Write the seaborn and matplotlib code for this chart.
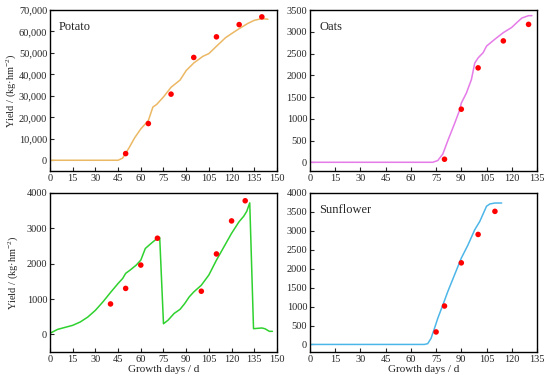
import matplotlib
matplotlib.use("Agg")
import matplotlib.pyplot as plt
import matplotlib.ticker as mticker
import pandas as pd
import seaborn as sns

# Simulated curves
potato_days = [0, 10, 20, 30, 40, 45, 48, 52, 56, 60, 65, 68, 70.5, 75, 80, 86, 90, 95,
               101, 105, 110, 116, 120, 125, 130.6, 135, 140, 144]
potato_sim = [0, 0, 0, 0, 0, 0, 1000, 5500, 10500, 14600, 18500, 24800, 26000, 29500,
              34000, 37400, 41800, 45300, 48400, 49700, 53100, 57100, 59000, 61300,
              63700, 65200, 66000, 65700]
potato_obs_days = [50, 65, 80, 95, 110, 125, 140]
potato_obs = [3100, 17100, 30800, 47900, 57500, 63200, 66800]

oats_days = [0, 20, 40, 60, 73, 76, 79, 82, 86, 89, 90, 93, 96, 98, 100, 103, 105, 110,
             115, 120, 123, 126, 130, 132]
oats_sim = [0, 0, 0, 0, 0, 40, 190, 500, 890, 1200, 1360, 1590, 1900, 2280, 2400, 2520,
            2670, 2830, 2980, 3100, 3210, 3315, 3370, 3370]
oats_obs_days = [80, 90, 100, 115, 130]
oats_obs = [70, 1220, 2170, 2790, 3170]

mixed_days = [0, 5, 15, 20, 25, 30, 35, 40, 45, 48, 50, 53, 57, 60, 63, 67, 71, 72.5,
              75, 78, 82, 86, 89, 92, 95, 100, 105, 110, 115, 120, 125, 128, 130, 132,
              134.5, 140, 142, 145, 147]
mixed_sim = [30, 140, 255, 350, 490, 680, 920, 1185, 1440, 1580, 1725, 1820, 1960, 2100,
             2430, 2580, 2720, 2740, 300, 400, 590, 710, 870, 1060, 1200, 1390, 1680,
             2100, 2480, 2860, 3190, 3340, 3480, 3720, 160, 180, 160, 85, 85]
mixed_obs_days = [40, 50, 60, 71, 100, 110, 120, 129]
mixed_obs = [860, 1300, 1960, 2720, 1220, 2275, 3210, 3780]

sun_days = [0, 20, 40, 60, 68, 70, 72, 74, 76, 79, 82, 86, 90, 94, 98, 101, 105, 107,
            110, 114]
sun_sim = [0, 0, 0, 0, 0, 20, 160, 420, 690, 1040, 1400, 1840, 2280, 2630, 3030, 3250,
           3650, 3710, 3735, 3735]
sun_obs_days = [75, 80, 90, 100, 110]
sun_obs = [330, 1015, 2155, 2905, 3515]

sns.set_style("ticks")
plt.rcParams["font.family"] = ["Liberation Serif", "DejaVu Serif"]
plt.rcParams["mathtext.fontset"] = "custom"
plt.rcParams["mathtext.rm"] = "Liberation Serif"
plt.rcParams["mathtext.it"] = "Liberation Serif:italic"
plt.rcParams["xtick.direction"] = "in"
plt.rcParams["ytick.direction"] = "in"

fig = plt.figure(figsize=(5.5, 3.82), dpi=100)

panels = [
    # (rect, days, sim, obs_days, obs, color, label, xmax, ylim, ystep)
    ([0.0909, 0.5524, 0.4127, 0.4214], potato_days, potato_sim, potato_obs_days,
     potato_obs, "#EBB864", "Potato", 150, (-5000, 70000), 10000),
    ([0.5636, 0.5524, 0.4127, 0.4214], oats_days, oats_sim, oats_obs_days,
     oats_obs, "#E57BE8", "Oats", 135, (-200, 3500), 500),
    ([0.0909, 0.0785, 0.4127, 0.4163], mixed_days, mixed_sim, mixed_obs_days,
     mixed_obs, "#2ED12E", "", 150, (-500, 4000), 1000),
    ([0.5636, 0.0785, 0.4127, 0.4163], sun_days, sun_sim, sun_obs_days,
     sun_obs, "#4DB6E8", "Sunflower", 135, (-200, 4000), 500),
]

for i, (rect, d, s, od, o, col, lab, xmax, ylim, ystep) in enumerate(panels):
    ax = fig.add_axes(rect)
    sim = pd.DataFrame({"day": d, "yield": s})
    obs = pd.DataFrame({"day": od, "yield": o})
    sns.lineplot(data=sim, x="day", y="yield", color=col, linewidth=1.1, ax=ax)
    sns.scatterplot(data=obs, x="day", y="yield", color="#FF0000", s=16,
                    edgecolor="none", ax=ax, zorder=3)
    ax.set_xlim(0, xmax)
    ax.set_ylim(*ylim)
    ax.xaxis.set_major_locator(mticker.MultipleLocator(15))
    ax.yaxis.set_major_locator(mticker.MultipleLocator(ystep))
    if lab == "Potato":
        ax.yaxis.set_major_formatter(mticker.StrMethodFormatter("{x:,.0f}"))
    ax.tick_params(labelsize=7.5, length=3, width=0.8, pad=2, top=False, right=False)
    for sp in ax.spines.values():
        sp.set_linewidth(1.0)
        sp.set_color("black")
    if lab:
        ax.text(0.04, 0.93, lab, transform=ax.transAxes, fontsize=9, va="top", ha="left")
    if i % 2 == 0:
        ax.set_ylabel("Yield / (kg·hm$^{-2}$)", fontsize=7.5)
        ax.yaxis.set_label_coords(-0.142 if i == 0 else -0.13, 0.5)
    else:
        ax.set_ylabel("")
    ax.set_xlabel("Growth days / d" if i >= 2 else "", fontsize=8, labelpad=1)

fig.savefig("out.png", dpi=100)
